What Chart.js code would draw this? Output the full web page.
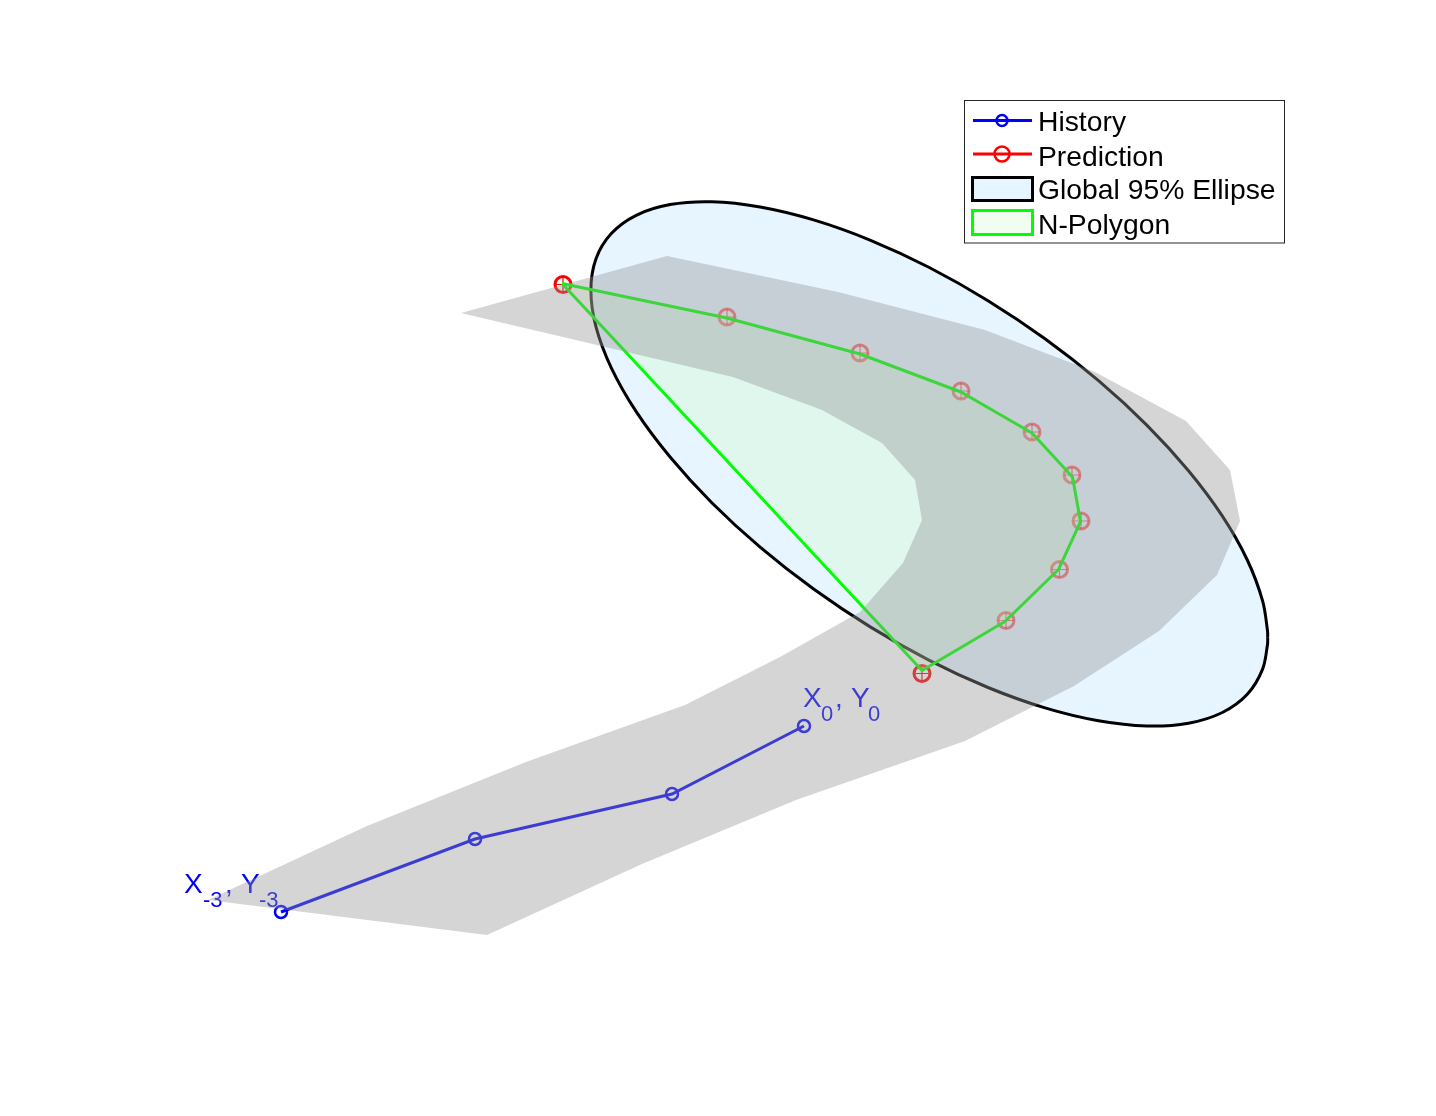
<!DOCTYPE html>
<html>
<head>
<meta charset="utf-8">
<style>html,body{margin:0;padding:0;background:#fff}canvas{display:block}</style>
<script src="https://cdn.jsdelivr.net/npm/chart.js@4/dist/chart.umd.min.js"></script>
</head>
<body>
<canvas id="c" width="1436" height="1116"></canvas>
<script>
const historyX = [281, 475, 672, 804];
const historyY = [912, 839, 794, 726];
const predictionX = [563, 727, 860, 961, 1032, 1072, 1081, 1059.5, 1006, 922];
const predictionY = [284.5, 317, 353, 391, 432, 475, 521, 569.5, 620.5, 673.5];
const predictionAlpha = [1, 0.55, 0.55, 0.55, 0.55, 0.55, 0.55, 0.55, 0.55, 1];
const polygonX = [562, 727, 860, 961, 1032, 1072.5, 1080.5, 1058.5, 1005, 922, 562];
const polygonY = [283.5, 318, 354, 392, 433, 477, 521.5, 569.5, 621.5, 670.5, 283.5];
const bandX = [461, 667, 838, 985, 1095, 1186, 1230, 1240, 1217, 1159, 1074, 965, 796, 642, 487, 208, 367, 526, 685, 780, 860, 903, 922, 915, 882, 822, 733, 461];
const bandY = [313, 256, 292, 330, 372, 421, 470, 521, 575, 631, 686, 741, 800, 864, 935, 900, 826, 762, 705, 657, 612, 563, 520, 480, 443, 410, 377, 313];
const ellipseX = [1267.7, 1267.5, 1262.6, 1247.3, 1222.4, 1188.5, 1146.8, 1098.5, 1045, 988, 929.3, 870.6, 813.6, 760.1, 711.8, 670.1, 636.2, 611.3, 596, 590.9, 596, 611.3, 636.2, 670.1, 711.8, 760.1, 813.6, 870.6, 929.3, 988, 1045, 1098.5, 1146.8, 1188.5, 1222.4, 1247.3, 1262.6, 1267.5, 1267.7];
const ellipseY = [637.6, 644.4, 669.1, 694.3, 712.5, 723.2, 726, 720.8, 707.9, 687.5, 660.3, 627.1, 589, 547.1, 502.7, 457, 411.6, 367.8, 326.9, 290.2, 258.7, 233.5, 215.3, 204.6, 201.8, 207, 219.9, 240.3, 267.5, 300.7, 338.8, 380.7, 425.1, 470.8, 516.2, 560, 600.9, 630.7, 637.6];
const legendLabels = ['History', 'Prediction', 'Global 95% Ellipse', 'N-Polygon'];
const startLabel = {x: 184, y: 893, name1: 'X', sub1: '-3', name2: 'Y', sub2: '-3', dxSub1: 19, dxComma: 41, dxName2: 57, dxSub2: 75};
const endLabel = {x: 803, y: 707, name1: 'X', sub1: '0', name2: 'Y', sub2: '0', dxSub1: 18, dxComma: 32, dxName2: 48, dxSub2: 65};

const pts = (xs, ys) => xs.map((x, i) => ({x, y: ys[i]}));
const FONT = '"Liberation Sans", Arial, sans-serif';

const subLabels = {
  id: 'subLabels',
  afterDatasetDraw(chart, args) {
    if (chart.data.datasets[args.index].label !== 'History') return;
    const ctx = chart.ctx, sx = chart.scales.x, sy = chart.scales.y;
    ctx.save();
    ctx.fillStyle = '#0000ff';
    ctx.textBaseline = 'alphabetic';
    for (const l of [startLabel, endLabel]) {
      const px = sx.getPixelForValue(l.x), py = sy.getPixelForValue(l.y);
      ctx.font = '28px ' + FONT;
      ctx.fillText(l.name1, px, py);
      ctx.fillText(',', px + l.dxComma, py);
      ctx.fillText(l.name2, px + l.dxName2, py);
      ctx.font = '22px ' + FONT;
      ctx.fillText(l.sub1, px + l.dxSub1, py + 14);
      ctx.fillText(l.sub2, px + l.dxSub2, py + 14);
    }
    ctx.restore();
  }
};

const legendBox = {
  id: 'legendBox',
  afterDraw(chart) {
    const ctx = chart.ctx;
    ctx.save();
    ctx.fillStyle = '#fff';
    ctx.strokeStyle = '#262626';
    ctx.lineWidth = 1;
    ctx.fillRect(964.5, 100.5, 320, 142.5);
    ctx.strokeRect(964.5, 100.5, 320, 142.5);
    const line = (y, color, r) => {
      ctx.strokeStyle = color;
      ctx.lineWidth = 3;
      ctx.beginPath(); ctx.moveTo(973, y); ctx.lineTo(1032, y); ctx.stroke();
      ctx.lineWidth = 2.5;
      ctx.beginPath(); ctx.arc(1002, y, r, 0, Math.PI * 2); ctx.stroke();
    };
    line(120.5, '#0000ff', 5.5);
    line(154, '#ff0000', 7.5);
    ctx.lineWidth = 3;
    ctx.fillStyle = '#e6f5ff';
    ctx.strokeStyle = '#000';
    ctx.fillRect(972.5, 177.5, 60, 23);
    ctx.strokeRect(972.5, 177.5, 60, 23);
    ctx.fillStyle = '#f0fdf0';
    ctx.strokeStyle = '#00ff00';
    ctx.fillRect(972.5, 210.5, 60, 24);
    ctx.strokeRect(972.5, 210.5, 60, 24);
    ctx.fillStyle = '#000';
    ctx.font = '28.3px ' + FONT;
    ctx.textBaseline = 'alphabetic';
    [130.5, 165.5, 198.5, 233.5].forEach((y, i) => ctx.fillText(legendLabels[i], 1038, y));
    ctx.restore();
  }
};

new Chart(document.getElementById('c'), {
  type: 'line',
  data: {
    datasets: [
      {label: 'Band', data: pts(bandX, bandY), order: 1, borderWidth: 0, borderColor: 'transparent',
       backgroundColor: 'rgba(150,150,150,0.4)', fill: 'shape', pointRadius: 0, tension: 0},
      {label: 'History', data: pts(historyX, historyY), order: 2, borderColor: '#0000ff', borderWidth: 3,
       pointStyle: 'circle', pointRadius: 6, pointBorderWidth: 2.5, pointBorderColor: '#0000ff',
       pointBackgroundColor: 'transparent', fill: false, tension: 0},
      {label: 'N-Polygon', data: pts(polygonX, polygonY), order: 3, borderColor: '#00ff00', borderWidth: 3,
       backgroundColor: 'rgba(200,255,170,0.2)', fill: 'shape', pointRadius: 0, tension: 0, borderJoinStyle: 'round'},
      {label: 'Prediction cross', data: pts(predictionX, predictionY), order: 4, showLine: false,
       pointStyle: 'cross', pointRadius: 8, pointBorderWidth: 1.2,
       pointBorderColor: predictionAlpha.map(a => `rgba(255,0,0,${a})`)},
      {label: 'Prediction', data: pts(predictionX, predictionY), order: 5, showLine: false,
       pointStyle: 'circle', pointRadius: 8, pointBorderWidth: 3,
       pointBorderColor: predictionAlpha.map(a => `rgba(255,0,0,${a})`),
       pointBackgroundColor: 'transparent'},
      {label: 'Global 95% Ellipse', data: pts(ellipseX, ellipseY), order: 6, borderColor: '#000', borderWidth: 3,
       backgroundColor: '#e6f5ff', fill: 'shape', pointRadius: 0, tension: 0.33}
    ]
  },
  options: {
    responsive: false,
    animation: false,
    layout: {padding: 0, autoPadding: false},
    plugins: {legend: {display: false}, tooltip: {enabled: false}},
    scales: {
      x: {type: 'linear', min: 0, max: 1436, display: false},
      y: {type: 'linear', min: 0, max: 1116, reverse: true, display: false}
    }
  },
  plugins: [subLabels, legendBox]
});
</script>
</body>
</html>
